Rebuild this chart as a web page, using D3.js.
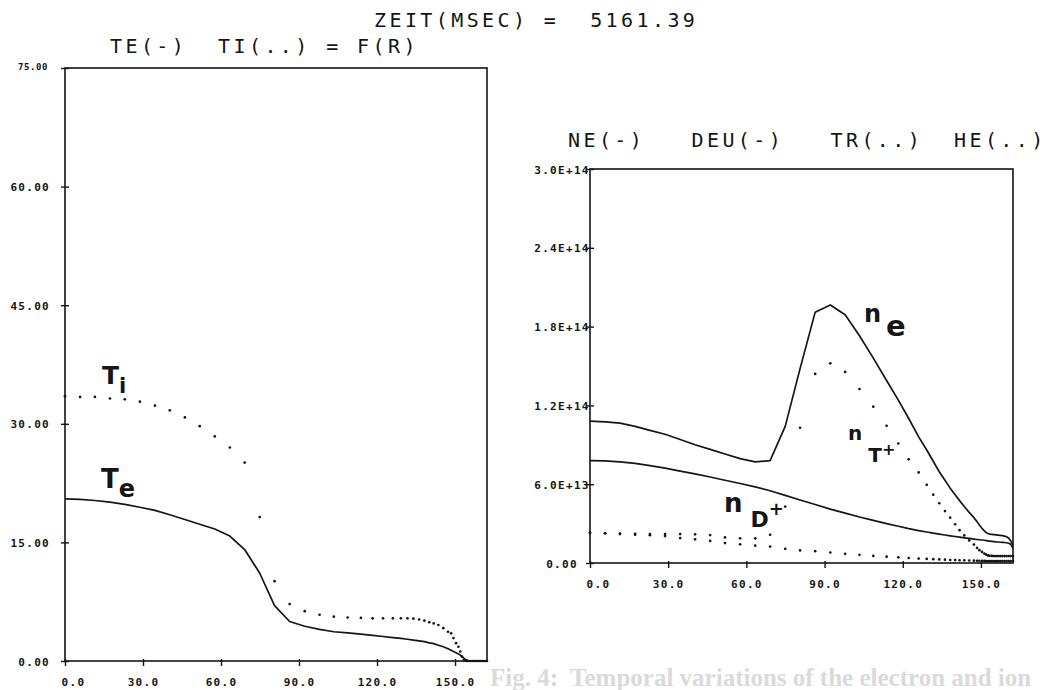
<!DOCTYPE html>
<html>
<head>
<meta charset="utf-8">
<script src="https://cdn.jsdelivr.net/npm/d3@7"></script>
<style>
  body { margin:0; background:#fff; }
  .ticklab { font-family:"DejaVu Sans Mono", monospace; font-weight:bold; font-size:11px; letter-spacing:1.3px; }
  .title { font-family:"DejaVu Sans Mono", monospace; font-size:20px; letter-spacing:3.4px; white-space:pre; }
  .hand { font-family:"DejaVu Sans", sans-serif; font-weight:bold; }
  .ghost { font-family:"Liberation Serif", serif; font-weight:bold; font-size:25px; white-space:pre; }
</style>
</head>
<body>
<svg id="plot" width="1058" height="690"></svg>
<script>
//
//  Plasma profiles at t = 5161.39 ms, two plotter panels
//
const ink = "#151515";

// radial grid shared by every profile
const rGrid = [0, 5.8, 11.5, 17.3, 23.0, 28.8, 34.6, 40.3, 46.1, 51.8, 57.6, 63.4, 69.1, 74.9, 80.6, 86.4,
  92.2, 97.9, 103.4, 108.7, 113.8, 118.3, 122.3, 126.1, 129.2, 131.7, 134.0, 136.2, 138.2, 140.1, 141.8,
  143.6, 145.5, 147.3, 148.5, 149.4, 150.4, 151.3, 152.0, 152.7, 153.4, 154.2, 155.0, 155.8, 156.6,
  157.4, 158.2, 159.0, 159.8, 160.6, 161.4, 162.3];
const rMax = 162.3;

// left panel: temperatures
const teVals = [20.5, 20.45, 20.3, 20.1, 19.8, 19.45, 19.05, 18.5, 17.9, 17.3, 16.7, 15.8, 14.1, 11.1, 7.0, 5.0,
  4.4, 4.0, 3.7, 3.55, 3.4, 3.25, 3.1, 2.95, 2.85, 2.75, 2.65, 2.55, 2.45, 2.3, 2.2,
  2.0, 1.8, 1.55, 1.35, 1.2, 1.05, 0.9, 0.75, 0.55, 0.35, 0.15, 0.05, 0, 0,
  0, 0, 0, 0, 0, 0, 0];
const tiVals = [33.5, 33.4, 33.4, 33.2, 33.1, 32.8, 32.3, 31.7, 30.8, 29.7, 28.4, 27.0, 25.1, 18.2, 10.1, 7.2,
  6.3, 5.85, 5.6, 5.5, 5.45, 5.4, 5.4, 5.4, 5.4, 5.4, 5.35, 5.25, 5.1, 4.9, 4.75,
  4.55, 4.15, 3.7, 3.5, 2.9, 2.25, 1.8, 1.2, 0.55, 0.15, 0, 0, 0, 0,
  0, 0, 0, 0, 0, 0, 0];

// right panel: densities in units of 1E+13
const nUnit = 1e13;
const neVals = [10.8, 10.75, 10.65, 10.4, 10.1, 9.8, 9.4, 9.0, 8.65, 8.3, 7.95, 7.7, 7.8, 10.4, 14.8, 19.1,
  19.65, 18.9, 17.3, 15.6, 13.9, 12.4, 11.0, 9.6, 8.6, 7.75, 6.95, 6.3, 5.7, 5.2, 4.75,
  4.3, 3.85, 3.45, 3.15, 2.9, 2.65, 2.45, 2.32, 2.25, 2.2, 2.18, 2.16, 2.14, 2.12,
  2.1, 2.08, 2.05, 2.0, 1.9, 1.7, 1.35];
const deuVals = [7.8, 7.77, 7.7, 7.58, 7.42, 7.22, 7.0, 6.78, 6.55, 6.3, 6.05, 5.8, 5.5, 5.15, 4.8, 4.45,
  4.1, 3.8, 3.5, 3.25, 3.0, 2.8, 2.62, 2.47, 2.36, 2.27, 2.2, 2.13, 2.07, 2.02, 1.97,
  1.92, 1.87, 1.82, 1.79, 1.77, 1.75, 1.73, 1.71, 1.69, 1.67, 1.65, 1.63, 1.61, 1.6,
  1.58, 1.57, 1.56, 1.54, 1.5, 1.42, 1.15];
const trVals = [2.3, 2.27, 2.24, 2.22, 2.2, 2.2, 2.2, 2.18, 2.13, 1.95, 1.88, 1.88, 2.15, 4.3, 10.3, 14.4,
  15.2, 14.55, 13.25, 11.9, 10.45, 9.1, 7.9, 6.9, 5.95, 5.2, 4.55, 3.95, 3.45, 2.95, 2.5,
  2.1, 1.72, 1.4, 1.15, 0.98, 0.84, 0.72, 0.64, 0.58, 0.55, 0.54, 0.53, 0.53, 0.53,
  0.53, 0.53, 0.53, 0.53, 0.53, 0.53, 0.53];
const heVals = [2.3, 2.26, 2.2, 2.16, 2.12, 2.05, 1.9, 1.8, 1.68, 1.52, 1.42, 1.32, 1.25, 1.08, 0.96, 0.9,
  0.8, 0.7, 0.62, 0.54, 0.48, 0.43, 0.38, 0.34, 0.31, 0.29, 0.27, 0.25, 0.23, 0.22, 0.21,
  0.2, 0.19, 0.18, 0.17, 0.17, 0.16, 0.16, 0.15, 0.15, 0.15, 0.15, 0.15, 0.15, 0.15,
  0.15, 0.15, 0.15, 0.15, 0.15, 0.15, 0.15];

// axis ticks
const xTicks = [0, 30, 60, 90, 120, 150];
const tTicks = [0, 15, 30, 45, 60, 75];
const nTicks = [0, 6, 12, 18, 24, 30];

const svg = d3.select("#plot");

function nFormat(v) {
  if (v == 0) return "0.00";
  return (v * nUnit).toExponential(1).toUpperCase();
}

function drawPanel(p) {
  let x = d3.scaleLinear().domain([0, rMax]).range([p.left, p.right]);
  let y = d3.scaleLinear().domain([0, p.yMax]).range([p.bottom, p.top]);
  let g = svg.append("g");

  g.append("rect")
    .attr("x", p.left).attr("y", p.top)
    .attr("width", p.right - p.left).attr("height", p.bottom - p.top)
    .attr("fill", "none").attr("stroke", ink).attr("stroke-width", 1.6);

  let xa = g.append("g")
    .attr("transform", "translate(0," + p.bottom + ")")
    .call(d3.axisBottom(x).tickValues(xTicks).tickFormat(d3.format(".1f")).tickSize(5));
  xa.select(".domain").remove();
  xa.selectAll(".tick line").attr("y1", -2).attr("y2", 5).attr("stroke", ink).attr("stroke-width", 1.4);
  xa.selectAll(".tick text")
    .attr("class", "ticklab").attr("fill", ink)
    .attr("y", 25).attr("dy", 0)
    .attr("dx", d => d == 0 ? 8 : 0);

  let ya = g.append("g")
    .attr("transform", "translate(" + p.left + ",0)")
    .call(d3.axisLeft(y).tickValues(p.yTicks).tickFormat(p.yFormat).tickSize(4));
  ya.select(".domain").remove();
  ya.selectAll(".tick line").attr("x1", -4).attr("x2", 4).attr("stroke", ink).attr("stroke-width", 1.4);
  ya.selectAll(".tick text")
    .attr("class", "ticklab").attr("fill", ink)
    .attr("x", p.labelX).attr("dy", "0.38em")
    .attr("text-anchor", p.labelAnchor);

  let line = d3.line().x((d, i) => x(rGrid[i])).y(d => y(d));
  for (let vals of p.solid) {
    g.append("path")
      .attr("d", line(vals))
      .attr("fill", "none").attr("stroke", ink)
      .attr("stroke-width", 1.7).attr("stroke-linejoin", "round");
  }
  for (let vals of p.dotted) {
    g.append("g").selectAll("circle")
      .data(vals)
      .enter()
      .append("circle")
      .attr("cx", (d, i) => x(rGrid[i]))
      .attr("cy", d => y(d))
      .attr("r", 1.35)
      .attr("fill", ink);
  }
  return ya;
}

// faint print-through from the facing page
svg.append("text").attr("class", "ghost")
  .attr("x", 490).attr("y", 686).attr("fill", "#dadada")
  .text("Fig. 4:  Temporal variations of the electron and ion");

let leftAxis = drawPanel({
  left: 65, right: 487, top: 68, bottom: 661,
  yMax: 75, yTicks: tTicks, yFormat: d3.format(".2f"),
  labelX: -15, labelAnchor: "end",
  solid: [teVals], dotted: [tiVals],
});
// the top label is plotted smaller
leftAxis.selectAll(".tick text").filter(d => d == 75)
  .style("font-size", "9px").style("letter-spacing", "0.6px").attr("x", -17).attr("dy", "0.2em");

drawPanel({
  left: 590, right: 1013, top: 169, bottom: 563,
  yMax: 30, yTicks: nTicks, yFormat: nFormat,
  labelX: -28, labelAnchor: "middle",
  solid: [neVals, deuVals], dotted: [trVals, heVals],
});

// plotter titles
svg.append("text").attr("class", "title").attr("x", 374).attr("y", 27).attr("fill", ink)
  .text("ZEIT(MSEC) =  5161.39");
svg.append("text").attr("class", "title").attr("x", 110).attr("y", 53).attr("fill", ink)
  .text("TE(-)  TI(..) = F(R)");
svg.append("text").attr("class", "title").attr("x", 568).attr("y", 147).attr("fill", ink)
  .text("NE(-)   DEU(-)   TR(..)  HE(..)");

// handwritten curve labels, subscripts as tspans
const handLabels = [
  {x:102, y:384, parts:[{t:"T", s:25, dx:0, dy:0}, {t:"i", s:21, dx:0, dy:9}]},
  {x:101, y:488, parts:[{t:"T", s:26, dx:0, dy:0}, {t:"e", s:24, dx:0, dy:9}]},
  {x:864, y:322, parts:[{t:"n", s:24, dx:0, dy:0}, {t:"e", s:29, dx:5, dy:14}]},
  {x:848, y:440, parts:[{t:"n", s:20, dx:0, dy:0}, {t:"T", s:20, dx:6, dy:22}, {t:"+", s:16, dx:0, dy:-7}]},
  {x:724, y:512, parts:[{t:"n", s:26, dx:0, dy:0}, {t:"D", s:22, dx:8, dy:15}, {t:"+", s:18, dx:0, dy:-12}]},
];
let hand = svg.append("g").selectAll("text")
  .data(handLabels)
  .enter()
  .append("text")
  .attr("class", "hand")
  .attr("x", d => d.x).attr("y", d => d.y)
  .attr("fill", ink);
hand.selectAll("tspan")
  .data(d => d.parts)
  .enter()
  .append("tspan")
  .attr("dx", d => d.dx).attr("dy", d => d.dy)
  .style("font-size", d => d.s + "px")
  .text(d => d.t);
</script>
</body>
</html>
